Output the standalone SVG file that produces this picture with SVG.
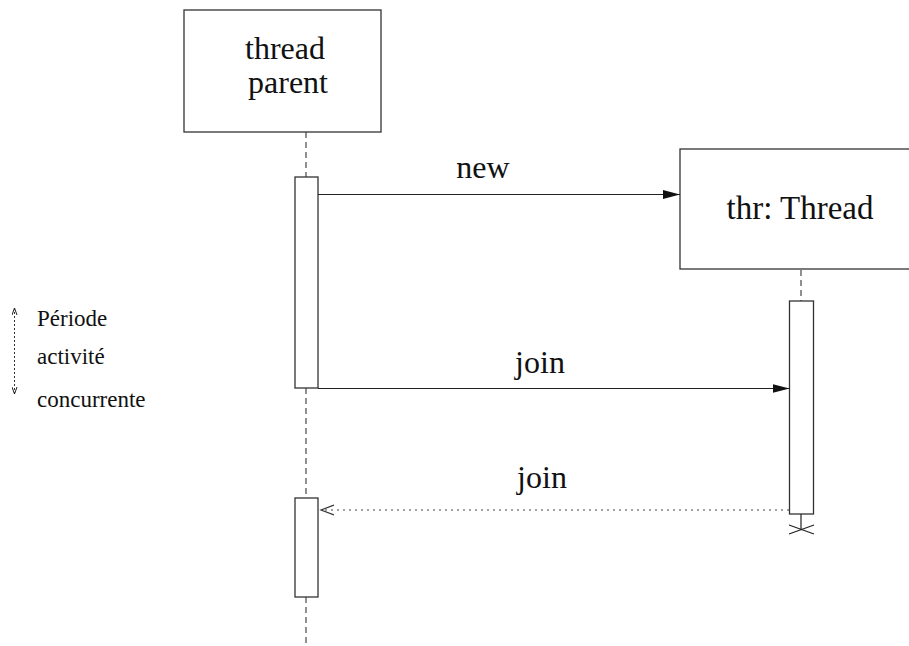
<svg xmlns="http://www.w3.org/2000/svg" width="909" height="646" viewBox="0 0 909 646">
  <style>
    .box { fill: #fff; stroke: #333; stroke-width: 1.3; }
    .act { fill: #fff; stroke: #333; stroke-width: 1.3; }
    .life { stroke: #555; stroke-width: 1.3; stroke-dasharray: 6 4; fill: none; }
    .msg { stroke: #222; stroke-width: 1.2; fill: none; }
    .ret { stroke: #444; stroke-width: 1.2; stroke-dasharray: 2 4; fill: none; }
    text { fill: #111; font-family: 'Liberation Serif', 'Times New Roman', serif; }
    .big { font-size: 32px; text-anchor: middle; }
    .small { font-size: 23px; }
  </style>
  <defs>
    <marker id="solidHead" markerWidth="18" markerHeight="10" refX="17" refY="5" orient="auto" markerUnits="userSpaceOnUse">
      <path d="M0,0.5 L17,5 L0,9.5 Z" fill="#111"/>
    </marker>
    <marker id="openHead" markerWidth="16" markerHeight="12" refX="13" refY="6" orient="auto" markerUnits="userSpaceOnUse">
      <path d="M0,1 L13,6 L0,11" fill="none" stroke="#333" stroke-width="1.2"/>
    </marker>
    <marker id="tinyHead" markerWidth="8" markerHeight="6" refX="7" refY="3" orient="auto-start-reverse" markerUnits="userSpaceOnUse">
      <path d="M0,0.5 L7,3 L0,5.5" fill="none" stroke="#222" stroke-width="1"/>
    </marker>
  </defs>

  <!-- lifelines -->
  <g id="lifelines">
    <line class="life" x1="306" y1="132" x2="306" y2="177"/>
    <line class="life" x1="306" y1="388" x2="306" y2="498"/>
    <line class="life" x1="306" y1="597" x2="306" y2="646"/>
    <line class="life" x1="801" y1="270" x2="801" y2="301"/>
  </g>

  <!-- participant: thread parent -->
  <g id="parent">
    <rect class="box" x="184" y="10" width="197" height="122"/>
    <text class="big" x="285" y="59">thread</text>
    <text class="big" x="288" y="93">parent</text>
  </g>

  <!-- participant: thr -->
  <g id="thr">
    <rect class="box" x="680" y="149" width="250" height="120"/>
    <text class="big" x="800" y="219" style="font-size:33px">thr: Thread</text>
  </g>

  <!-- activations -->
  <g id="parentAct1"><rect class="act" x="295" y="177" width="23" height="211"/></g>
  <g id="parentAct2"><rect class="act" x="295" y="498" width="23" height="99"/></g>
  <g id="thrAct">
    <rect class="act" x="789.5" y="301" width="24" height="213"/>
    <line class="msg" x1="801" y1="514" x2="801" y2="529"/>
    <path class="msg" d="M789,525 L814,534 M789,534 L814,525"/>
  </g>

  <!-- messages -->
  <g id="connectors">
    <line class="msg" x1="318" y1="194.5" x2="680" y2="194.5" marker-end="url(#solidHead)"/>
    <line class="msg" x1="318" y1="388.5" x2="789.5" y2="388.5" marker-end="url(#solidHead)"/>
    <line class="ret" x1="789" y1="510" x2="321" y2="510" marker-end="url(#openHead)"/>
  </g>

  <g id="labels">
    <text class="big" x="483" y="178">new</text>
    <text class="big" x="540" y="373">join</text>
    <text class="big" x="542" y="488">join</text>
  </g>

  <!-- concurrency period note -->
  <g id="note">
    <line x1="14.5" y1="308" x2="14.5" y2="394" stroke="#333" stroke-width="1" stroke-dasharray="2 2" marker-start="url(#tinyHead)" marker-end="url(#tinyHead)"/>
    <text class="small" x="37" y="326">Période</text>
    <text class="small" x="37" y="364">activité</text>
    <text class="small" x="37" y="407">concurrente</text>
  </g>
</svg>
